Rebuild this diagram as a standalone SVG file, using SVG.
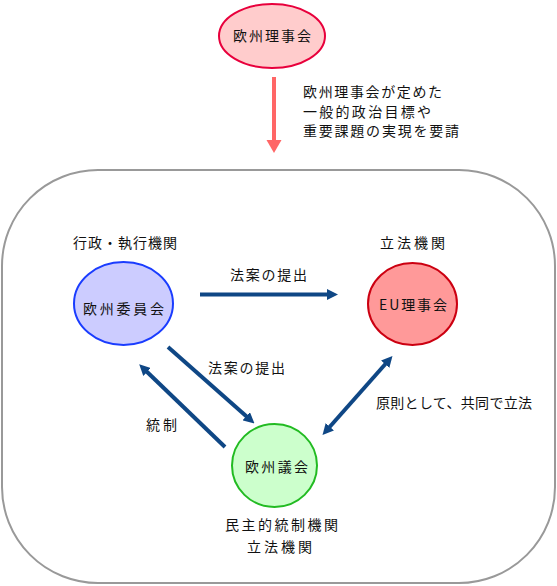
<svg xmlns="http://www.w3.org/2000/svg" width="557" height="586" viewBox="0 0 557 586">
<style>
text{font-family:"Noto Sans CJK JP","Noto Sans",sans-serif;font-size:14px;fill:#111}
.conn{stroke:#0f4785;stroke-width:4;fill:none}
</style>
<defs>
<marker id="ah" viewBox="0 0 11 11" markerWidth="11" markerHeight="11" markerUnits="userSpaceOnUse" refX="5" refY="5.5" orient="auto-start-reverse">
<path d="M0,0 L11,5.5 L0,11 z" fill="#0f4785"/>
</marker>
</defs>
<rect x="2" y="170" width="553" height="413" rx="96" ry="96" fill="#fff" stroke="#999" stroke-width="2"/>
<g id="top-node">
<ellipse cx="272" cy="36" rx="53" ry="32" fill="#ffcccc" stroke="#e8003c" stroke-width="2"/>
<text x="233" y="41" textLength="78" lengthAdjust="spacing">欧州理事会</text>
</g>
<g id="top-arrow">
<line x1="274" y1="77" x2="274" y2="142" stroke="#ff6666" stroke-width="4"/>
<path d="M266.5,140 L281.5,140 L274,153 z" fill="#ff6666"/>
<text x="303" y="97" textLength="139" lengthAdjust="spacing">欧州理事会が定めた</text>
<text x="303" y="117" textLength="128" lengthAdjust="spacing">一般的政治目標や</text>
<text x="303" y="136" textLength="156" lengthAdjust="spacing">重要課題の実現を要請</text>
</g>
<g id="commission">
<text x="73" y="248" textLength="104" lengthAdjust="spacing">行政・執行機関</text>
<ellipse cx="123.5" cy="303.5" rx="49.5" ry="41.5" fill="#ccccff" stroke="#1a3cff" stroke-width="2"/>
<text x="83" y="314" textLength="81" lengthAdjust="spacing">欧州委員会</text>
</g>
<g id="council">
<text x="380" y="248" textLength="65" lengthAdjust="spacing">立法機関</text>
<ellipse cx="412.5" cy="304" rx="44.5" ry="41" fill="#ff9999" stroke="#cc0011" stroke-width="2"/>
<text x="379" y="310" textLength="68" lengthAdjust="spacing">EU理事会</text>
</g>
<g id="parliament">
<ellipse cx="274.5" cy="465.5" rx="42.5" ry="41.5" fill="#ccffcc" stroke="#22bb22" stroke-width="2"/>
<text x="245" y="472" textLength="63" lengthAdjust="spacing">欧州議会</text>
<text x="225" y="530" textLength="113" lengthAdjust="spacing">民主的統制機関</text>
<text x="247" y="552" textLength="65" lengthAdjust="spacing">立法機関</text>
</g>
<g id="connectors">
<line class="conn" x1="200" y1="294.5" x2="332" y2="294.5" marker-end="url(#ah)"/>
<line class="conn" x1="168" y1="347" x2="250" y2="419.5" marker-end="url(#ah)"/>
<line class="conn" x1="225" y1="447" x2="143.5" y2="368.5" marker-end="url(#ah)"/>
<line class="conn" x1="326.5" y1="430.5" x2="388.5" y2="360.5" marker-start="url(#ah)" marker-end="url(#ah)"/>
<text x="230" y="280" textLength="77" lengthAdjust="spacing">法案の提出</text>
<text x="208" y="373" textLength="77" lengthAdjust="spacing">法案の提出</text>
<text x="146" y="430" textLength="31" lengthAdjust="spacing">統制</text>
<text x="376" y="408" textLength="156" lengthAdjust="spacing">原則として、共同で立法</text>
</g>
</svg>
